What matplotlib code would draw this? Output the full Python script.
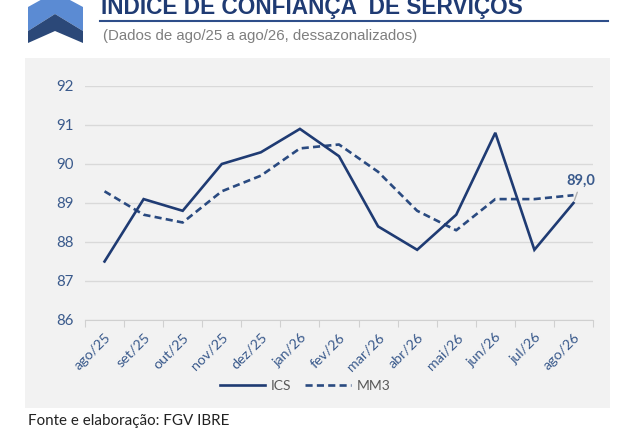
import matplotlib
matplotlib.use("Agg")
import matplotlib.pyplot as plt
from matplotlib.patches import Polygon, Rectangle
from matplotlib.lines import Line2D

months = ["ago/25", "set/25", "out/25", "nov/25", "dez/25", "jan/26", "fev/26",
          "mar/26", "abr/26", "mai/26", "jun/26", "jul/26", "ago/26"]
ics = [87.5, 89.1, 88.8, 90.0, 90.3, 90.9, 90.2, 88.4, 87.8, 88.7, 90.8, 87.8, 89.0]
mm3 = [89.3, 88.7, 88.5, 89.3, 89.7, 90.4, 90.5, 89.8, 88.8, 88.3, 89.1, 89.1, 89.2]
yticks = [86, 87, 88, 89, 90, 91, 92]
last_label = "89,0"

W, H = 636, 446
fig = plt.figure(figsize=(W / 100, H / 100), dpi=100)
fig.patch.set_facecolor("white")

def fx(x):
    return x / W

def fy(y):
    return 1 - y / H

navy = "#1F3B73"
tick_col = "#3A5A8C"

# gray panel
fig.patches.append(Rectangle((fx(25), fy(408)), fx(610) - fx(25), fy(58) - fy(408),
                             transform=fig.transFigure, facecolor="#F2F2F2",
                             edgecolor="none", zorder=-5))

# logo
light = Polygon([(fx(28), fy(7)), (fx(55), fy(-8)), (fx(83), fy(7)),
                 (fx(83), fy(31)), (fx(55), fy(14)), (fx(28), fy(31))],
                closed=True, transform=fig.transFigure, facecolor="#5B8BD3",
                edgecolor="none")
dark = Polygon([(fx(28), fy(31)), (fx(55), fy(14)), (fx(83), fy(31)),
                (fx(83), fy(43)), (fx(55), fy(31)), (fx(28), fy(43))],
               closed=True, transform=fig.transFigure, facecolor="#2B4878",
               edgecolor="none")
fig.patches.extend([light, dark])

# title
fig.text(fx(101), fy(14), "ÍNDICE DE CONFIANÇA  DE SERVIÇOS", family="Liberation Sans",
         fontweight="bold", fontsize=16.3, color="#1F3B73", ha="left", va="baseline")
fig.lines.append(Line2D([fx(100), fx(608)], [fy(21), fy(21)], transform=fig.transFigure,
                        color="#2E4E8A", lw=1.5))
fig.text(fx(103), fy(36), "(Dados de ago/25 a ago/26, dessazonalizados)",
         family="Liberation Sans", fontsize=10.8, color="#7F7F7F", ha="left", va="center")

# axes
ax = fig.add_axes([fx(85), fy(320), fx(593) - fx(85), fy(86) - fy(320)], zorder=2)
ax.set_facecolor("none")
x = list(range(len(months)))
ax.plot(x, ics, color=navy, lw=1.9, solid_joinstyle="miter", label="ICS", zorder=3)
ax.plot(x, mm3, color="#2A4A80", lw=1.9, linestyle=(0, (2.7, 1.6)), label="MM3", zorder=2)

ax.set_xlim(-0.5, len(months) - 0.5)
ax.set_ylim(86, 92)
ax.set_yticks(yticks)
ax.yaxis.grid(True, color="#D9D9D9", lw=1)
ax.set_axisbelow(True)
for s in ["top", "right", "left"]:
    ax.spines[s].set_visible(False)
ax.spines["bottom"].set_color("#D0D0D0")
ax.tick_params(axis="y", length=0, pad=8, labelsize=10.8, labelcolor=tick_col)
ax.set_xticks([i - 0.5 for i in range(len(months) + 1)])
ax.set_xticklabels([])
ax.set_xticks(x, minor=True)
ax.set_xticklabels(months, minor=True, rotation=45, ha="right", rotation_mode="anchor")
ax.tick_params(axis="x", which="major", length=5, color="#D0D0D0", direction="out")
ax.tick_params(axis="x", which="minor", length=0, pad=8, labelsize=10.3, labelcolor=tick_col)
for lab in ax.get_xticklabels(minor=True) + ax.get_yticklabels():
    lab.set_family("Lato")

# last value annotation
ax.annotate(last_label, xy=(x[-1], ics[-1]), xytext=(x[-1] + 0.2, ics[-1] + 0.38),
            textcoords="data", ha="center", va="bottom", fontsize=10.5, fontweight="bold",
            color="#3A5A8C", family="Lato",
            arrowprops=dict(arrowstyle="-", color="#B0B0B0", lw=1,
                            shrinkA=1, shrinkB=2))

leg = fig.legend(handles=ax.get_lines(), labels=["ICS", "MM3"], loc="center",
                 bbox_to_anchor=(fx(305), fy(386)), ncol=2, frameon=False,
                 handlelength=3.3, columnspacing=1.0, handletextpad=0.4,
                 prop={"family": "Lato", "size": 10})
for t in leg.get_texts():
    t.set_color("#595959")

fig.text(fx(28), fy(421), "Fonte e elaboração: FGV IBRE", family="Lato", fontsize=10.9,
         color="#222222", ha="left", va="center")

fig.savefig("out.png", dpi=100)
